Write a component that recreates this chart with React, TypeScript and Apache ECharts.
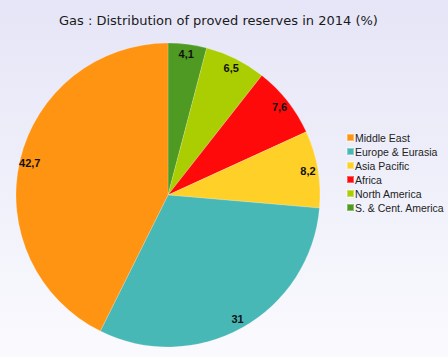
import React, { useEffect, useRef } from "react";
import * as echarts from "echarts";

const categories = [
  "S. & Cent. America",
  "North America",
  "Africa",
  "Asia Pacific",
  "Europe & Eurasia",
  "Middle East",
];
const values = [4.1, 6.5, 7.6, 8.2, 31, 42.7];
const colors = ["#4E9A22", "#AACE02", "#FF0A0A", "#FFD028", "#48B8B6", "#FF9412"];
const legendOrder = [
  "Middle East",
  "Europe & Eurasia",
  "Asia Pacific",
  "Africa",
  "North America",
  "S. & Cent. America",
];
const titleText = "Gas : Distribution of proved reserves in 2014 (%)";

export default function App() {
  const ref = useRef<HTMLDivElement>(null);
  useEffect(() => {
    document.body.style.margin = "0";
    if (!ref.current) return;
    const chart = echarts.init(ref.current, undefined, { renderer: "svg" });
    const data = categories.map((name, i) => ({
      name,
      value: values[i],
      itemStyle: { color: colors[i] },
    }));
    chart.setOption({
      animation: false,
      backgroundColor: new echarts.graphic.LinearGradient(0, 0, 0, 1, [
        { offset: 0, color: "#e5e5f7" },
        { offset: 1, color: "#fafafe" },
      ]),
      title: {
        text: titleText,
        left: 54,
        top: 9,
        textStyle: {
          fontFamily: "DejaVu Sans",
          fontSize: 13,
          fontWeight: "normal",
          color: "#1a1a1a",
        },
      },
      legend: {
        orient: "vertical",
        left: 341,
        top: 127,
        data: legendOrder,
        icon: "rect",
        itemWidth: 7,
        itemHeight: 7,
        itemGap: 3,
        selectedMode: false,
        textStyle: {
          fontFamily: "Liberation Sans",
          fontSize: 10.5,
          lineHeight: 11,
          color: "#222",
          padding: [0, 0, 0, -4],
        },
      },
      series: [
        {
          type: "pie",
          center: [168, 195],
          radius: 152,
          startAngle: 90,
          clockwise: true,
          data,
          label: { show: false },
          labelLine: { show: false },
          emphasis: { disabled: true },
          itemStyle: { borderColor: "rgba(255,255,255,0.35)", borderWidth: 0.5 },
        },
        {
          type: "pie",
          center: [168, 195],
          radius: [126, 152],
          startAngle: 90,
          clockwise: true,
          silent: true,
          data: categories.map((name, i) => ({ name, value: values[i] })),
          itemStyle: { color: "rgba(0,0,0,0)" },
          emphasis: { disabled: true },
          legendHoverLink: false,
          label: {
            show: true,
            position: "inside",
            formatter: (p: any) => String(p.value).replace(".", ","),
            fontFamily: "Liberation Sans",
            fontSize: 11,
            fontWeight: "bold",
            color: "#111",
          },
          labelLine: { show: false },
        },
      ],
    });
    return () => chart.dispose();
  }, []);
  return <div ref={ref} style={{ width: 448, height: 357 }} />;
}
